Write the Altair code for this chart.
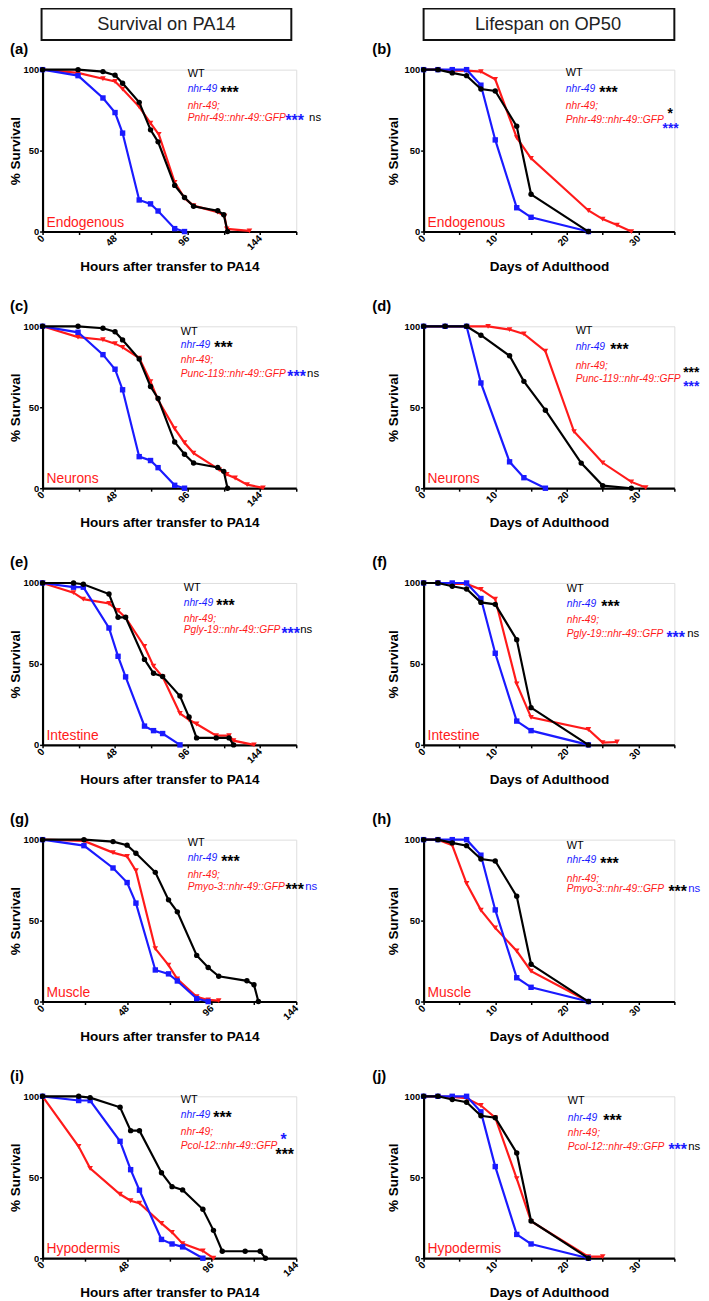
import altair as alt
import pandas as pd

FONT = "Liberation Sans"
BLACK = "#000000"
BLUE = "#1a1aff"
RED = "#ff1a1a"

# ---------------- data: PA14 (hours) ----------------
PA14_T = [0, 23.5, 40, 48, 53, 64, 71.5, 76.5, 87.5, 94, 100, 116, 120, 122.5]
WT_PA14_S = [100, 100, 98.8, 96.6, 91.6, 79.8, 62.8, 55.4, 28.5, 21, 15.6, 12.8, 10.4, 0]
MUT_PA14_T = [0, 23.5, 40, 48, 53, 64, 71.5, 76.5, 87.5, 94]
MUT_PA14_S = [100, 96.3, 82.5, 73.5, 60.8, 19.5, 17.1, 12.7, 1.8, 0]

RES_A_T = [0, 23.5, 40, 48, 53, 64, 71.5, 77, 87.5, 94, 100, 116, 120.5, 122, 137]
RES_A_S = [100, 98, 94.4, 92.7, 88, 77, 67, 60, 30.4, 20.6, 16, 12, 9.5, 1.6, 0.4]

RES_C_T = [0, 23.5, 40, 48, 53, 64, 71.5, 76.5, 87.5, 94, 100, 117, 122, 127.5, 135.5, 146]
RES_C_S = [100, 93.3, 91.7, 89.3, 87, 80.4, 65.8, 54.5, 36.8, 28.1, 21.7, 11.5, 8.5, 6.3, 2.2, 0.2]

RES_G_T = [0, 23.5, 40, 48, 53, 64, 71.5, 76.5, 87.5, 94, 100]
RES_G_S = [100, 99.2, 92, 89.6, 80.8, 32.7, 22.5, 13.9, 3, 1, 0.6]

PA14_T2 = [0, 20.5, 27, 44, 50, 55, 67.5, 73.5, 79.5, 91, 97, 102, 115, 123.5, 126.5]
WT_PA14_S2 = [100, 100, 99.2, 93.2, 78.8, 78.8, 52.8, 44.2, 42.2, 30.2, 17.2, 4.3, 4.3, 4.3, 0]
MUT_PA14_T2 = [0, 20.5, 27, 44, 50, 55, 67.5, 73.5, 79.5, 91]
MUT_PA14_S2 = [100, 97.4, 97.4, 72.2, 54.7, 42, 11.6, 8.8, 7, 0]

RES_E_T = [0, 20.5, 27, 44, 50, 55, 67.5, 73.5, 79.5, 91, 97, 102, 115, 123.5, 126.5, 140]
RES_E_S = [100, 94, 90, 87.3, 83, 78.6, 60.8, 48.6, 42, 19.4, 15.5, 12.9, 5.7, 5.7, 2.6, 0]

RES_I_T = [0, 20.5, 27, 44, 50, 55, 67.5, 73.5, 79.5, 91, 97]
RES_I_S = [100, 69, 55.5, 39.5, 35.5, 34, 21.5, 16, 9, 4.5, 0]

# ---------------- data: OP50 (days) ----------------
OP_T = [0, 2, 4, 6, 8, 10, 13, 15, 23]
WT_OP_S = [100, 100, 98, 96.3, 88, 86.8, 65, 23, 0]
MUT_OP_S = [100, 100, 100, 100, 90.4, 56.6, 14.7, 8.8, 0]

RES_B_T = [0, 2, 4, 6, 8, 10, 13, 15, 23, 25, 27, 29]
RES_B_S = [100, 100, 99.4, 99.4, 98.8, 94, 58, 45.2, 13, 7.7, 4, 0]

WT_D_T = [0, 3, 6, 8, 12, 14, 17, 22, 25, 29]
WT_D_S = [100, 100, 100, 94.5, 81.8, 66, 48.2, 15.5, 1.6, 0]
MUT_D_T = [0, 3, 6, 8, 12, 14, 17]
MUT_D_S = [100, 100, 100, 65, 16.3, 6.5, 0]
RES_D_T = [0, 3, 6, 9, 12, 14, 17, 21, 25, 29, 31]
RES_D_S = [100, 100, 100, 100, 98, 95.3, 84.7, 35, 15.7, 3.9, 0.4]

RES_F_T = [0, 2, 4, 6, 8, 10, 13, 15, 23, 25, 27]
RES_F_S = [100, 100, 99.4, 99.4, 96, 90, 37.7, 17, 9.5, 1.4, 1.8]

RES_H_T = [0, 2, 4, 6, 8, 10, 13, 15, 23]
RES_H_S = [100, 100, 96.5, 72.9, 56.5, 45.5, 31.2, 18.8, 0]

RES_J_T = [0, 2, 4, 6, 8, 10, 13, 15, 23, 25]
RES_J_S = [100, 100, 99.6, 98.8, 94.3, 86.8, 49.2, 22.8, 1, 1]

H = 164


def txt(s, x, y, color=BLACK, size=10, style="normal", weight="normal", align="left", baseline="middle"):
    return alt.Chart(pd.DataFrame({"t": [s]})).mark_text(
        align=align, baseline=baseline, font=FONT, fontSize=size, fontStyle=style,
        fontWeight=weight, color=color
    ).encode(x=alt.value(x), y=alt.value(y), text="t:N")


def legend_layers(items):
    out = []
    for s, x, y, color, kind in items:
        if kind == "i":
            out.append(txt(s, x, y, color, 10.4, "italic"))
        elif kind == "a":
            out.append(txt(s, x, y + 3.5, color, 16, "normal", "bold"))
        elif kind == "as":  # stacked asterisks (slightly smaller)
            out.append(txt(s, x, y + 3, color, 14, "normal", "bold"))
        elif kind == "ns":
            out.append(txt(s, x, y, color, 11.5))
        else:
            out.append(txt(s, x, y, color, 11))
    return out


def panel(letter, col, xmax, step, every, xtitle, tissue, series, legend, header=None):
    W = 257 if col == 0 else 254
    X = alt.X("t:Q", scale=alt.Scale(domain=[0, xmax], nice=False, zero=False),
              axis=alt.Axis(values=list(range(0, xmax + 1, step)),
                            labelExpr=f"datum.value % {every} === 0 ? datum.label : ''",
                            title=xtitle, grid=False, labelAngle=315, labelAlign="right",
                            labelBaseline="middle", labelPadding=2, labelFlush=False,
                            labelOverlap=False, labelBound=False, labelFont=FONT,
                            labelFontSize=10, labelFontWeight="bold", labelColor="black",
                            tickSize=3, tickWidth=1.5, tickColor="black",
                            domainColor="black", domainWidth=2.2,
                            titleFont=FONT, titleFontSize=13.7, titleFontWeight="bold",
                            titleColor="black", titleX=W / 2, titleY=35,
                            titleBaseline="middle", titleAlign="center"))
    Y = alt.Y("s:Q", scale=alt.Scale(domain=[0, 100], nice=False),
              axis=alt.Axis(values=[0, 50, 100], title="% Survival", grid=False,
                            labelFont=FONT, labelFontSize=9.5, labelFontWeight="bold",
                            labelColor="black", labelPadding=1, tickSize=3, tickWidth=1.5,
                            tickColor="black", domainColor="black", domainWidth=2.2,
                            titleFont=FONT, titleFontSize=13.7, titleFontWeight="bold",
                            titleColor="black", titleX=(-27 if col == 0 else -30),
                            titleY=H / 2, titleAngle=270, titleAlign="center",
                            titleBaseline="middle"))
    layers = []
    if header:
        hw = 253 if col == 0 else 254
        layers.append(alt.Chart(pd.DataFrame({"a": [0]})).mark_rect(
            fill="white", stroke="#111111", strokeWidth=2
        ).encode(x=alt.value(-1 if col == 0 else 0), x2=alt.value(hw - (1 if col == 0 else 0)),
                 y=alt.value(-62), y2=alt.value(-30)))
        layers.append(txt(header, hw / 2 - 1, -46, "#222222", 18.5, align="center"))
    for t, s, color, shape, size in series:
        df = pd.DataFrame({"t": t, "s": s, "i": list(range(len(t)))})
        base = alt.Chart(df)
        layers.append(base.mark_line(color=color, strokeWidth=2.2).encode(x=X, y=Y, order="i:Q"))
        layers.append(base.mark_point(shape=shape, filled=True, color=color, size=size,
                                      opacity=1).encode(x=X, y=Y))
    layers.append(txt(tissue, 4, 155, RED, 14))
    layers.extend(legend_layers(legend))
    layers.append(txt(letter, -33 if col == 0 else -52, -21, BLACK, 15, weight="bold"))
    return alt.layer(*layers).properties(width=W, height=H)


def ser(wt, mut, res):
    return [
        (res[0], res[1], RED, "triangle-down", 32),
        (mut[0], mut[1], BLUE, "square", 30),
        (wt[0], wt[1], BLACK, "circle", 30),
    ]


HX = "Hours after transfer to PA14"
DX = "Days of Adulthood"

pa = panel("(a)", 0, 168, 24, 48, HX, "Endogenous",
           ser((PA14_T, WT_PA14_S), (MUT_PA14_T, MUT_PA14_S), (RES_A_T, RES_A_S)),
           [("WT", 147, 4, BLACK, "n"), ("nhr-49", 147, 20, BLUE, "i"), ("***", 180, 20, BLACK, "a"),
            ("nhr-49;", 147, 37, RED, "i"), ("Pnhr-49::nhr-49::GFP", 147, 49, RED, "i"),
            ("***", 246, 49, BLUE, "a"), ("ns", 270, 49, BLACK, "ns")],
           header="Survival on PA14")
pb = panel("(b)", 1, 35, 5, 10, DX, "Endogenous",
           ser((OP_T, WT_OP_S), (OP_T, MUT_OP_S), (RES_B_T, RES_B_S)),
           [("WT", 144, 3, BLACK, "n"), ("nhr-49", 144, 20, BLUE, "i"), ("***", 178, 20, BLACK, "a"),
            ("nhr-49;", 144, 37, RED, "i"), ("Pnhr-49::nhr-49::GFP", 144, 51, RED, "i"),
            ("*", 247, 42, BLACK, "as"), ("***", 242, 57, BLUE, "as")],
           header="Lifespan on OP50")
pc = panel("(c)", 0, 168, 24, 48, HX, "Neurons",
           ser((PA14_T, WT_PA14_S), (MUT_PA14_T, MUT_PA14_S), (RES_C_T, RES_C_S)),
           [("WT", 140, 6, BLACK, "n"), ("nhr-49", 140, 19, BLUE, "i"), ("***", 174, 19, BLACK, "a"),
            ("nhr-49;", 140, 34, RED, "i"), ("Punc-119::nhr-49::GFP", 140, 48, RED, "i"),
            ("***", 248, 48, BLUE, "a"), ("ns", 268, 48, BLACK, "ns")])
pd_ = panel("(d)", 1, 35, 5, 10, DX, "Neurons",
            ser((WT_D_T, WT_D_S), (MUT_D_T, MUT_D_S), (RES_D_T, RES_D_S)),
            [("WT", 154, 5, BLACK, "n"), ("nhr-49", 154, 21, BLUE, "i"), ("***", 189, 21, BLACK, "a"),
             ("nhr-49;", 154, 40, RED, "i"), ("Punc-119::nhr-49::GFP", 154, 53, RED, "i"),
             ("***", 263, 44, BLACK, "as"), ("***", 263, 59, BLUE, "as")])
pe = panel("(e)", 0, 168, 24, 48, HX, "Intestine",
           ser((PA14_T2, WT_PA14_S2), (MUT_PA14_T2, MUT_PA14_S2), (RES_E_T, RES_E_S)),
           [("WT", 143, 5, BLACK, "n"), ("nhr-49", 143, 20, BLUE, "i"), ("***", 176, 20, BLACK, "a"),
            ("nhr-49;", 143, 37, RED, "i"), ("Pgly-19::nhr-49::GFP", 143, 48, RED, "i"),
            ("***", 242, 48, BLUE, "a"), ("ns", 261, 48, BLACK, "ns")])
pf = panel("(f)", 1, 35, 5, 10, DX, "Intestine",
           ser((OP_T, WT_OP_S), (OP_T, MUT_OP_S), (RES_F_T, RES_F_S)),
           [("WT", 145, 6, BLACK, "n"), ("nhr-49", 145, 21, BLUE, "i"), ("***", 180, 21, BLACK, "a"),
            ("nhr-49;", 145, 38, RED, "i"), ("Pgly-19::nhr-49::GFP", 145, 52, RED, "i"),
            ("***", 246, 52, BLUE, "a"), ("ns", 267, 52, BLACK, "ns")])
pg = panel("(g)", 0, 144, 24, 48, HX, "Muscle",
           ser((PA14_T, WT_PA14_S), (MUT_PA14_T, MUT_PA14_S), (RES_G_T, RES_G_S)),
           [("WT", 147, 3, BLACK, "n"), ("nhr-49", 147, 19, BLUE, "i"), ("***", 181, 19, BLACK, "a"),
            ("nhr-49;", 147, 36, RED, "i"), ("Pmyo-3::nhr-49::GFP", 147, 48, RED, "i"),
            ("***", 246, 48, BLACK, "a"), ("ns", 266, 48, BLUE, "ns")])
ph = panel("(h)", 1, 35, 5, 10, DX, "Muscle",
           ser((OP_T, WT_OP_S), (OP_T, MUT_OP_S), (RES_H_T, RES_H_S)),
           [("WT", 145, 6, BLACK, "n"), ("nhr-49", 145, 21, BLUE, "i"), ("***", 179, 21, BLACK, "a"),
            ("nhr-49;", 145, 40, RED, "i"), ("Pmyo-3::nhr-49::GFP", 145, 50, RED, "i"),
            ("***", 248, 50, BLACK, "a"), ("ns", 268, 50, BLUE, "ns")])
pi = panel("(i)", 0, 144, 24, 48, HX, "Hypodermis",
           ser((PA14_T2, WT_PA14_S2), (MUT_PA14_T2, MUT_PA14_S2), (RES_I_T, RES_I_S)),
           [("WT", 140, 4, BLACK, "n"), ("nhr-49", 140, 19, BLUE, "i"), ("***", 173, 19, BLACK, "a"),
            ("nhr-49;", 140, 36, RED, "i"), ("Pcol-12::nhr-49::GFP", 140, 50, RED, "i"),
            ("*", 241, 41, BLUE, "a"), ("***", 236, 56, BLACK, "a")])
pj = panel("(j)", 1, 35, 5, 10, DX, "Hypodermis",
           ser((OP_T, WT_OP_S), (OP_T, MUT_OP_S), (RES_J_T, RES_J_S)),
           [("WT", 146, 5, BLACK, "n"), ("nhr-49", 146, 22, BLUE, "i"), ("***", 182, 22, BLACK, "a"),
            ("nhr-49;", 146, 37, RED, "i"), ("Pcol-12::nhr-49::GFP", 146, 51, RED, "i"),
            ("***", 248, 51, BLUE, "a"), ("ns", 268, 51, BLACK, "ns")])

chart = alt.concat(pa, pb, pc, pd_, pe, pf, pg, ph, pi, pj, columns=2,
                   spacing={"row": 96, "column": 129}, bounds="flush").properties(
    padding={"left": 0, "top": -10, "right": 0, "bottom": 0}
).configure_view(stroke=None).configure(font=FONT)

chart.save("out.html", embed_options={"renderer": "svg", "actions": False})
